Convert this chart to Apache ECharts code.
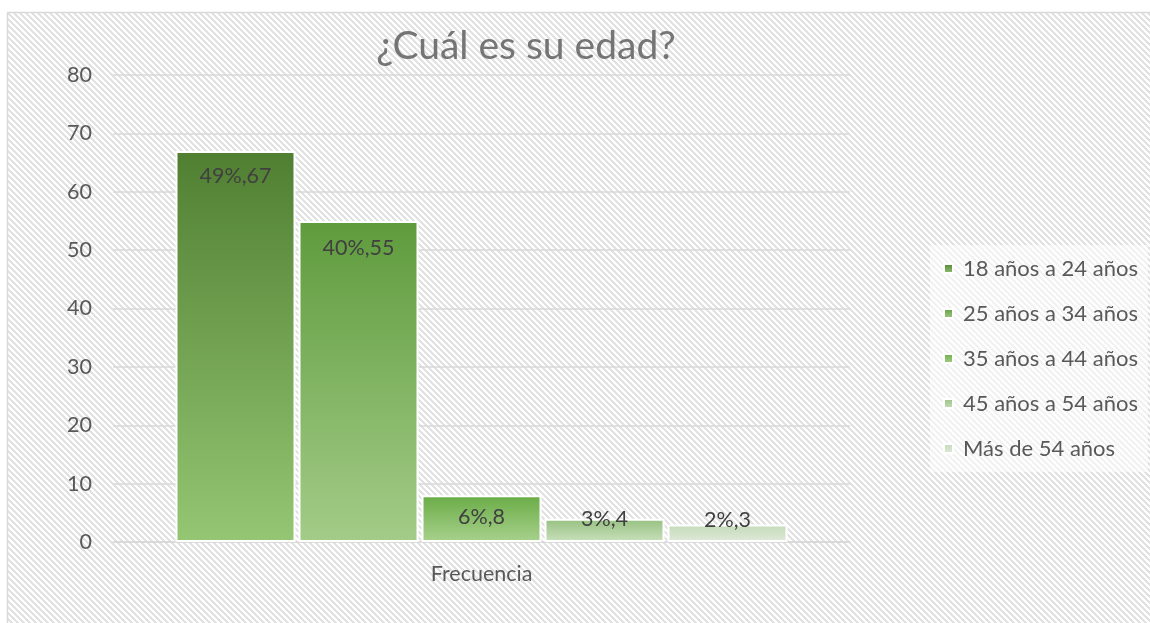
<!DOCTYPE html>
<html>
<head>
<meta charset="utf-8">
<script src="https://cdn.jsdelivr.net/npm/echarts@6/dist/echarts.min.js"></script>
<style>
  html, body { margin: 0; padding: 0; background: #fff; }
  #chart { width: 1150px; height: 623px; }
</style>
</head>
<body>
<div id="chart"></div>
<script>
// data
const categories = ["Frecuencia"];
const seriesNames = ["18 años a 24 años", "25 años a 34 años", "35 años a 44 años", "45 años a 54 años", "Más de 54 años"];
const counts = [67, 55, 8, 4, 3];
const percents = ["49%", "40%", "6%", "3%", "2%"];
const yTicks = [0, 10, 20, 30, 40, 50, 60, 70, 80];

// gradient per bar (top, bottom)
const barColors = [
    ["#507f31", "#94c673"],
    ["#5f9b3d", "#a3cc88"],
    ["#6aac46", "#a8d18d"],
    ["#95c07f", "#c9e0bc"],
    ["#c3dab8", "#dfeada"]
];
// label shift per bar, the short bars push the label up like excel does
const labelOffsets = [[0, 2], [0, 4], [0, -1], [0, -23], [0, -27]];

const font = "Lato, 'Open Sans', sans-serif";

// hatched background tile
function makeHatch() {
    const size = 6;
    const c = document.createElement("canvas");
    c.width = size; c.height = size;
    const ctx = c.getContext("2d");
    const img = ctx.createImageData(size, size);
    for (let y = 0; y < size; y++) {
        for (let x = 0; x < size; x++) {
            const i = (y * size + x) * 4;
            const on = ((x - y) % size + size) % size < 3;
            const v = on ? 226 : 255;
            img.data[i] = v; img.data[i + 1] = v; img.data[i + 2] = v; img.data[i + 3] = 255;
        }
    }
    ctx.putImageData(img, 0, 0);
    return c;
}

const chart = echarts.init(document.getElementById("chart"), null, {renderer: "canvas"});

const series = seriesNames.map(function (name, i) {
    return {
        name: name,
        type: "bar",
        barWidth: 120,
        barGap: "2.5%",
        data: [counts[i]],
        itemStyle: {
            borderColor: "#ffffff",
            borderWidth: 2,
            color: new echarts.graphic.LinearGradient(0, 0, 0, 1, [
                {offset: 0, color: barColors[i][0]},
                {offset: 1, color: barColors[i][1]}
            ])
        },
        label: {
            show: true,
            position: "insideTop",
            distance: 12,
            offset: labelOffsets[i],
            color: "#404040",
            fontFamily: font,
            fontSize: 21.5,
            formatter: function () { return percents[i] + "," + counts[i]; }
        }
    };
});

const option = {
    animation: false,
    graphic: [{
        type: "rect",
        z: -10,
        silent: true,
        shape: {x: 7.5, y: 12.5, width: 1160, height: 640},
        style: {
            fill: {image: makeHatch(), repeat: "repeat"},
            stroke: "#d9d9d9",
            lineWidth: 1.5
        }
    }],
    title: {
        text: "¿Cuál es su edad?",
        left: 521,
        textAlign: "center",
        top: 22,
        textStyle: {
            fontFamily: font,
            fontSize: 39,
            fontWeight: "normal",
            color: "#757575"
        }
    },
    legend: {
        orient: "vertical",
        left: 930,
        top: 245,
        padding: [12, 10, 12, 13],
        backgroundColor: "rgba(255,255,255,0.55)",
        itemGap: 22,
        itemWidth: 9,
        itemHeight: 9,
        icon: "rect",
        data: seriesNames,
        textStyle: {
            fontFamily: font,
            fontSize: 22,
            lineHeight: 23,
            color: "#595959",
            padding: [0, 0, 0, 5]
        }
    },
    grid: {
        left: 113,
        right: 300,
        top: 75,
        bottom: 81
    },
    xAxis: {
        type: "category",
        data: categories,
        axisLine: {lineStyle: {color: "#d9d9d9", width: 1.5}},
        axisTick: {show: false},
        axisLabel: {
            margin: 21,
            fontFamily: font,
            fontSize: 21.5,
            color: "#595959"
        }
    },
    yAxis: {
        type: "value",
        min: yTicks[0],
        max: yTicks[yTicks.length - 1],
        interval: 10,
        axisLine: {show: false},
        axisTick: {show: false},
        axisLabel: {
            margin: 21,
            fontFamily: font,
            fontSize: 21.5,
            color: "#595959"
        },
        splitLine: {lineStyle: {color: "#d9d9d9", width: 1.5}}
    },
    series: series
};

chart.setOption(option);
</script>
</body>
</html>
